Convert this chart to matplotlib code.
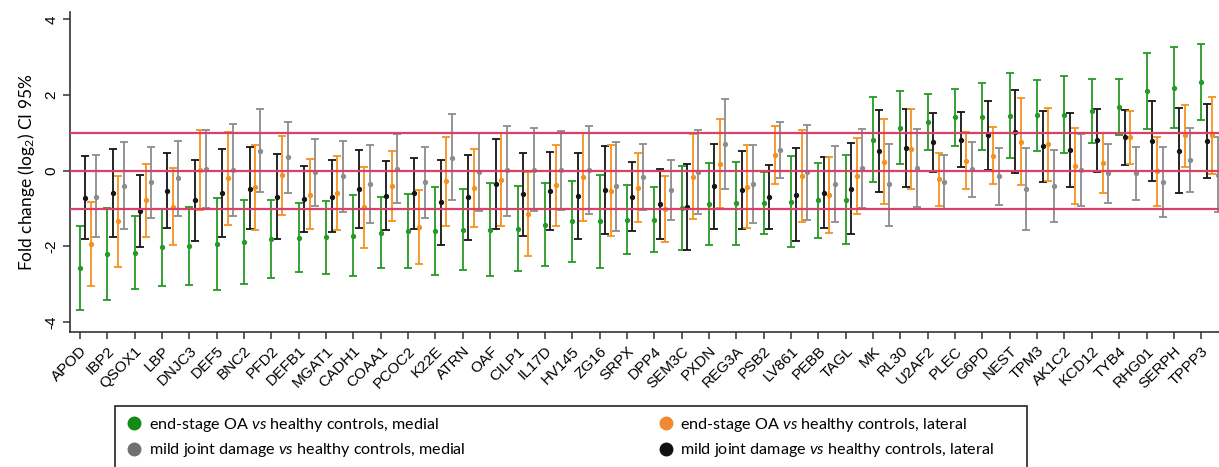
import numpy as np
import matplotlib
matplotlib.use("Agg")
import matplotlib.pyplot as plt
from matplotlib.lines import Line2D
from matplotlib.patches import Rectangle

plt.rcParams['mathtext.fontset'] = 'custom'
plt.rcParams['mathtext.rm'] = 'Lato'
plt.rcParams['mathtext.it'] = 'Lato:italic'

genes = ["APOD", "IBP2", "QSOX1", "LBP", "DNJC3", "DEF5", "BNC2", "PFD2", "DEFB1", "MGAT1",
         "CADH1", "COAA1", "PCOC2", "K22E", "ATRN", "OAF", "CILP1", "IL17D", "HV145", "ZG16",
         "SRPX", "DPP4", "SEM3C", "PXDN", "REG3A", "PSB2", "LV861", "PEBB", "TAGL", "MK",
         "RL30", "U2AF2", "PLEC", "G6PD", "NEST", "TPM3", "AK1C2", "KCD12", "TYB4", "RHG01",
         "SERPH", "TPPP3"]

# end-stage OA vs healthy, medial (green)
green_mid = [-2.56, -2.20, -2.17, -2.02, -1.99, -1.93, -1.89, -1.80, -1.77, -1.76, -1.73, -1.64, -1.58, -1.58,
             -1.56, -1.56, -1.53, -1.43, -1.34, -1.34, -1.29, -1.29, -0.99, -0.88, -0.86, -0.85, -0.83, -0.77,
             -0.76, 0.82, 1.14, 1.30, 1.42, 1.43, 1.45, 1.47, 1.48, 1.58, 1.69, 2.11, 2.19, 2.34]
green_lo = [-3.69, -3.42, -3.13, -3.04, -3.03, -3.14, -3.00, -2.83, -2.68, -2.73, -2.79, -2.57, -2.56, -2.75,
            -2.63, -2.78, -2.65, -2.51, -2.41, -2.56, -2.21, -2.15, -2.10, -1.95, -1.97, -1.68, -2.02, -1.77,
            -1.93, -0.29, 0.17, 0.56, 0.66, 0.55, 0.34, 0.53, 0.46, 0.73, 0.95, 1.11, 1.13, 1.34]
green_hi = [-1.45, -0.99, -1.20, -1.02, -0.95, -0.72, -0.78, -0.77, -0.84, -0.79, -0.65, -0.70, -0.62, -0.43,
            -0.48, -0.33, -0.40, -0.33, -0.27, -0.11, -0.38, -0.43, 0.13, 0.20, 0.24, -0.02, 0.38, 0.21,
            0.41, 1.94, 2.12, 2.04, 2.17, 2.32, 2.57, 2.39, 2.49, 2.43, 2.43, 3.12, 3.27, 3.35]

# mild joint damage vs healthy, lateral (black)
black_mid = [-0.71, -0.58, -1.06, -0.54, -0.78, -0.58, -0.47, -0.68, -0.75, -0.68, -0.47, -0.66, -0.59, -0.83,
             -0.70, -0.35, -0.62, -0.54, -0.67, -0.51, -0.69, -0.87, -0.96, -0.40, -0.52, -0.70, -0.63, -0.58,
             -0.47, 0.53, 0.61, 0.76, 0.82, 0.95, 1.03, 0.65, 0.55, 0.80, 0.88, 0.79, 0.53, 0.79]
black_lo = [-1.80, -1.74, -2.01, -1.52, -1.86, -1.76, -1.55, -1.79, -1.63, -1.63, -1.51, -1.57, -1.54, -1.96,
            -1.83, -1.55, -1.71, -1.57, -1.79, -1.66, -1.58, -1.80, -2.08, -1.54, -1.55, -1.54, -1.86, -1.52,
            -1.67, -0.56, -0.43, -0.03, 0.09, 0.03, -0.05, -0.30, -0.44, -0.03, 0.16, -0.26, -0.60, -0.20]
black_hi = [0.39, 0.57, -0.11, 0.46, 0.29, 0.57, 0.63, 0.43, 0.12, 0.28, 0.56, 0.26, 0.35, 0.29,
            0.42, 0.83, 0.47, 0.50, 0.47, 0.66, 0.22, 0.04, 0.18, 0.72, 0.52, 0.15, 0.59, 0.37,
            0.74, 1.61, 1.64, 1.52, 1.55, 1.85, 2.13, 1.58, 1.53, 1.64, 1.60, 1.83, 1.65, 1.77]

# end-stage OA vs healthy, lateral (orange)
orange_mid = [-1.93, -1.33, -0.78, -0.95, 0.01, -0.20, -0.44, -0.11, -0.63, -0.59, -0.97, -0.40, -1.48, -0.28,
              -0.46, -0.24, -1.14, -0.38, -0.17, -0.54, -0.45, -1.01, -0.16, 0.18, -0.42, 0.41, -0.15, -0.63,
              -0.14, 0.24, 0.57, -0.23, 0.27, 0.40, 0.77, 0.71, 0.13, 0.20, 0.88, -0.01, 0.94, 0.94]
orange_lo = [-3.05, -2.53, -1.76, -1.96, -1.04, -1.44, -1.57, -1.17, -1.55, -1.57, -2.04, -1.33, -2.46, -1.45,
             -1.49, -1.46, -2.26, -1.45, -1.33, -1.73, -1.36, -1.88, -1.27, -0.99, -1.51, -0.36, -1.36, -1.64,
             -1.14, -0.88, -0.48, -0.92, -0.48, -0.36, -0.37, -0.26, -0.87, -0.58, 0.18, -0.92, 0.11, -0.08]
orange_hi = [-0.82, -0.13, 0.18, 0.08, 1.07, 1.03, 0.69, 0.92, 0.30, 0.38, 0.11, 0.53, -0.51, 0.88,
             0.57, 0.99, -0.03, 0.69, 1.00, 0.67, 0.47, -0.14, 0.96, 1.36, 0.67, 1.19, 1.07, 0.36,
             0.87, 1.36, 1.63, 0.47, 1.02, 1.15, 1.91, 1.67, 1.13, 0.99, 1.58, 0.90, 1.75, 1.94]

# mild joint damage vs healthy, medial (gray)
gray_mid = [-0.68, -0.39, -0.30, -0.20, 0.04, 0.02, 0.53, 0.36, -0.04, -0.15, -0.35, 0.05, -0.30, 0.35,
            -0.04, 0.01, 0.03, 0.02, 0.02, -0.41, -0.16, -0.51, -0.04, 0.71, -0.36, 0.55, -0.04, -0.35,
            0.06, -0.36, 0.08, -0.29, 0.04, -0.14, -0.48, -0.40, 0.02, -0.07, -0.07, -0.30, 0.29, -0.10]
gray_lo = [-1.76, -1.55, -1.24, -1.19, -0.99, -1.20, -0.55, -0.60, -0.92, -1.08, -1.39, -0.85, -1.25, -0.77,
           -1.07, -1.19, -1.06, -1.03, -1.14, -1.58, -1.04, -1.29, -1.14, -0.47, -1.39, -0.18, -1.29, -1.35,
           -0.99, -1.45, -0.96, -1.00, -0.69, -0.90, -1.57, -1.35, -0.94, -0.85, -0.76, -1.22, -0.57, -1.09]
gray_hi = [0.41, 0.77, 0.64, 0.78, 1.08, 1.23, 1.62, 1.30, 0.83, 0.79, 0.68, 0.97, 0.64, 1.49,
           1.00, 1.19, 1.12, 1.06, 1.18, 0.75, 0.72, 0.28, 1.07, 1.89, 0.67, 1.29, 1.21, 0.65,
           1.11, 0.70, 1.09, 0.42, 0.77, 0.61, 0.61, 0.54, 0.97, 0.70, 0.62, 0.63, 1.14, 0.88]

ref_lines = [1, 0, -1]

fig = plt.figure(figsize=(12.19, 4.67), dpi=100)
ax = fig.add_axes([0.0574, 0.289, 0.9426, 0.685])

x = np.arange(len(genes))
series = [
    (green_mid, green_lo, green_hi, 0.0, '#259a25'),
    (black_mid, black_lo, black_hi, 0.2, '#151515'),
    (orange_mid, orange_lo, orange_hi, 0.4, '#f4921f'),
    (gray_mid, gray_lo, gray_hi, 0.6, '#8c8c8c'),
]
for mid, lo, hi, off, col in series:
    mid = np.array(mid)
    err = [mid - np.array(lo), np.array(hi) - mid]
    ax.errorbar(x + off, mid, yerr=err, fmt='o', ms=2.8, color=col, ecolor=col,
                elinewidth=1.3, capsize=3.2, capthick=1.3, zorder=2)

for y in ref_lines:
    ax.axhline(y, color='#d9416b', lw=1.6, zorder=3)

ax.set_xlim(-0.366, 41.65)
ax.set_ylim(-4.26, 4.19)
ax.set_xticks(x)
ax.set_xticklabels(genes, rotation=45, ha='right', rotation_mode='anchor',
                   fontsize=11, family='Liberation Sans')
ax.set_yticks([-4, -2, 0, 2, 4])
ax.set_yticklabels(['-4', '-2', '0', '2', '4'], rotation=90, va='center',
                   fontsize=11, family='Liberation Sans')
ax.set_ylabel('Fold change (log$_{2}$) CI 95%', fontsize=12.5, family='Lato', labelpad=5)

for s in ['top', 'right']:
    ax.spines[s].set_visible(False)
for s in ['left', 'bottom']:
    ax.spines[s].set_color('#333333')
    ax.spines[s].set_linewidth(1.2)
ax.tick_params(axis='both', direction='out', length=5, width=1.1, color='#333333')

# legend
handles = [
    Line2D([], [], marker='o', ls='', ms=9, color='#138a13'),
    Line2D([], [], marker='o', ls='', ms=9, color='#707070'),
    Line2D([], [], marker='o', ls='', ms=9, color='#f08a30'),
    Line2D([], [], marker='o', ls='', ms=9, color='#111111'),
]
labels = [
    'end-stage OA $\\it{vs}$ healthy controls, medial',
    'mild joint damage $\\it{vs}$ healthy controls, medial',
    'end-stage OA $\\it{vs}$ healthy controls, lateral',
    'mild joint damage $\\it{vs}$ healthy controls, lateral',
]
fig.legend(handles, labels, loc='upper left', bbox_to_anchor=(126 / 1219, 1 - 416 / 467),
           ncol=2, frameon=False, prop={'family': 'Lato', 'size': 11.65},
           handletextpad=0.4, handlelength=1.0, columnspacing=11.9, labelspacing=0.45,
           borderaxespad=0, borderpad=0)
fig.patches.append(Rectangle((115 / 1219, -0.05), (1027 - 115) / 1219, 0.05 + (467 - 406) / 467,
                             transform=fig.transFigure, fill=False, ec='#222222', lw=1.2))

fig.savefig('out.png', dpi=100)
